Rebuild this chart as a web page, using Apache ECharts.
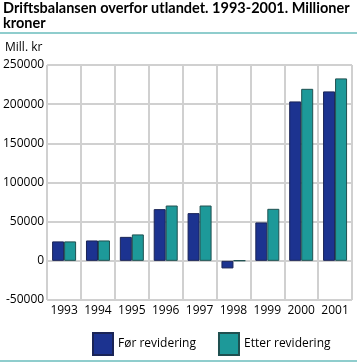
<!DOCTYPE html>
<html><head><meta charset="utf-8">
<script src="https://cdn.jsdelivr.net/npm/echarts@6/dist/echarts.min.js"></script>
<style>html,body{margin:0;padding:0;background:#fff}#c{width:357px;height:362px}</style>
</head><body><div id="c"></div>
<script>
const categories = ['1993','1994','1995','1996','1997','1998','1999','2000','2001'];
const forRevidering = [24800, 26000, 30600, 66000, 60900, -9700, 49000, 203500, 216300];
const etterRevidering = [24800, 26000, 33700, 70600, 70600, 400, 66400, 219600, 232900];
const seriesNames = ['Før revidering', 'Etter revidering'];
const titleText = 'Driftsbalansen overfor utlandet. 1993-2001. Millioner\nkroner';
const unitText = 'Mill. kr';

const font = '"Open Sans", "DejaVu Sans", sans-serif';
const chart = echarts.init(document.getElementById('c'));
chart.setOption({
  animation: false,
  textStyle: { fontFamily: font },
  title: {
    text: titleText, left: 3, top: 1, padding: 0,
    textStyle: { fontSize: 14.5, fontWeight: 'bold', color: '#000', lineHeight: 15, fontFamily: 'Lato, "Open Sans", sans-serif' }
  },
  graphic: [
    { type: 'rect', shape: { x: 0, y: 32, width: 357, height: 2 }, style: { fill: '#8fcdcd' } },
    { type: 'rect', shape: { x: 0, y: 360, width: 357, height: 2 }, style: { fill: '#8fcdcd' } },
    { type: 'text', left: 5, top: 42, style: { text: unitText, font: '12px ' + font, fill: '#000' } }
  ],
  legend: {
    left: 87, top: 327, itemWidth: 20, itemHeight: 22, itemGap: 22, icon: 'rect',
    textStyle: { fontSize: 12, color: '#000', fontFamily: font },
    data: seriesNames
  },
  grid: { left: 45, right: 5, top: 65, bottom: 62, show: true, borderColor: '#d0d0d0', borderWidth: 1 },
  xAxis: [{
    type: 'category', data: categories,
    axisLine: { show: false }, axisTick: { show: false },
    axisLabel: { color: '#000', fontSize: 12, margin: 5, fontFamily: font, interval: 0 },
    splitLine: { show: false }
  }, {
    type: 'value', min: 0, max: categories.length, interval: 1, position: 'bottom',
    axisLine: { show: false }, axisTick: { show: false }, axisLabel: { show: false },
    splitLine: { show: true, lineStyle: { color: '#d0d0d0', width: 2 } }
  }],
  yAxis: {
    type: 'value', min: -50000, max: 250000, interval: 50000,
    axisLine: { show: false }, axisTick: { show: false },
    axisLabel: { color: '#000', fontSize: 12, margin: 3, fontFamily: font, formatter: v => String(v) },
    splitLine: { lineStyle: { color: '#d0d0d0', width: 2 } }
  },
  series: [
    { name: seriesNames[0], type: 'bar', data: forRevidering, barWidth: 12, barGap: '0%',
      itemStyle: { color: '#1c3390', borderColor: '#1a2456', borderWidth: 1 } },
    { name: seriesNames[1], type: 'bar', data: etterRevidering, barWidth: 12,
      itemStyle: { color: '#1d9999', borderColor: '#1f5050', borderWidth: 1 } }
  ]
});
</script></body></html>
